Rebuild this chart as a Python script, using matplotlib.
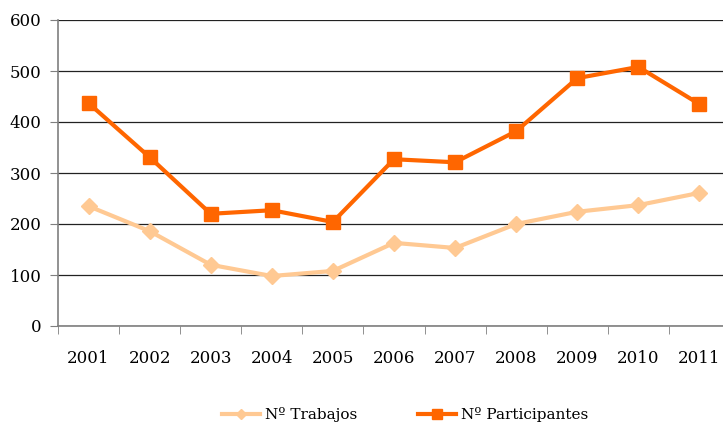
import matplotlib.pyplot as plt
import numpy as np

# Data
years = ["2001", "2002", "2003", "2004", "2005", "2006", "2007", "2008", "2009", "2010", "2011"]
trabajos = [235, 186, 120, 98, 108, 163, 153, 200, 224, 237, 261]
participantes = [437, 331, 220, 227, 204, 327, 321, 382, 486, 508, 435]

plt.rcParams['font.family'] = ['DejaVu Serif']

fig = plt.figure(figsize=(7.23, 4.26), dpi=100)
ax = fig.add_axes([58 / 723, 100 / 426, 672 / 723, 306 / 426])

x = np.arange(len(years))
ax.plot(x, trabajos, color="#FFC993", lw=3, marker="D", ms=8, label="Nº Trabajos")
ax.plot(x, participantes, color="#FF6600", lw=3, marker="s", ms=10, label="Nº Participantes")

ax.set_xlim(-0.5, len(years) - 0.5)
ax.set_ylim(0, 600)
ax.set_yticks(range(0, 601, 100))
ax.yaxis.grid(True, color="#222222", lw=0.9)
ax.set_axisbelow(True)

# category labels at centers, tick marks at boundaries
ax.set_xticks(x)
ax.set_xticklabels(years, fontsize=12)
ax.tick_params(axis="x", length=0, pad=17)
ax.set_xticks(np.arange(-0.5, len(years), 1), minor=True)
ax.tick_params(axis="x", which="minor", length=6, direction="out", color="#7f7f7f")
ax.tick_params(axis="y", length=6, color="#7f7f7f", labelsize=12, pad=6)

for s in ["top", "right"]:
    ax.spines[s].set_visible(False)
ax.spines["left"].set_color("#7f7f7f")
ax.spines["bottom"].set_color("#7f7f7f")
ax.spines["left"].set_linewidth(1.2)
ax.spines["bottom"].set_linewidth(1.2)

leg = fig.legend(loc="center", bbox_to_anchor=(405 / 723, 1 - 415 / 426), ncol=2,
                 frameon=False, fontsize=11, handlelength=2.5, handletextpad=0.3,
                 columnspacing=4, markerscale=0.7)

fig.savefig("out.png", dpi=100)
